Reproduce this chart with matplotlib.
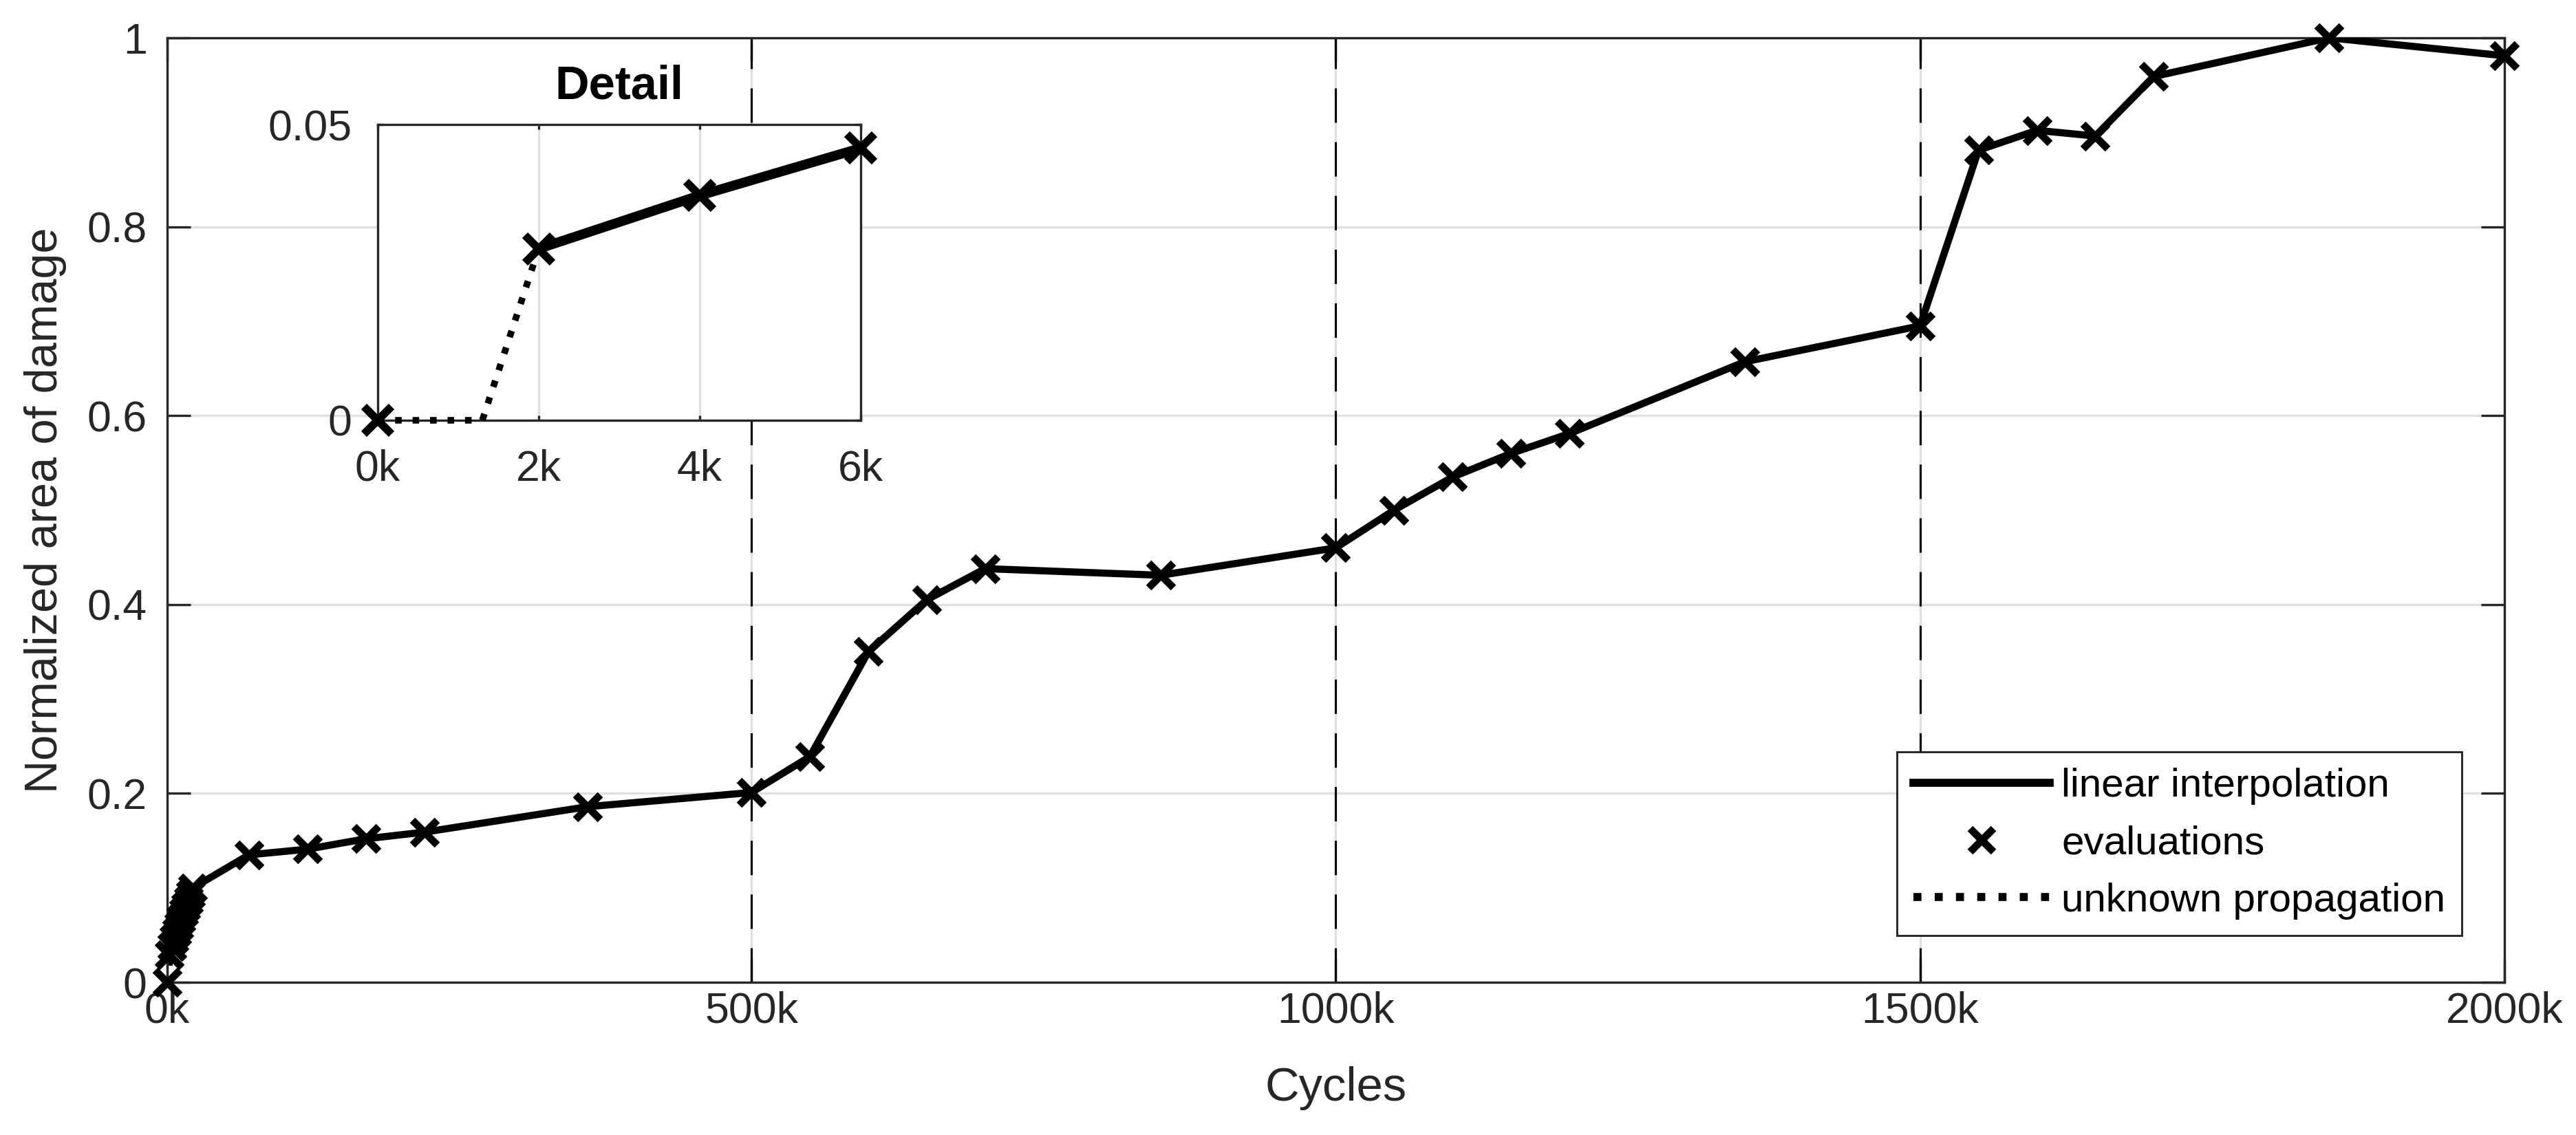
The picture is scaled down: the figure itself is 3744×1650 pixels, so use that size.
"""
Normalized damage area vs. load cycles, with a detail inset of the first 6k cycles.
Output: out.png (3744 x 1650)
"""
import matplotlib
matplotlib.use("Agg")
import matplotlib.pyplot as plt
from matplotlib.lines import Line2D
from matplotlib.ticker import FuncFormatter

plt.rcParams["font.family"] = ["Liberation Sans", "DejaVu Sans"]

# evaluations (cycles in thousands, normalized damage area)
cycles_k = [0, 2, 4, 6, 8, 10, 12, 14, 16, 18, 20, 22,
            70, 120, 170, 220, 360, 500, 550, 600, 650, 700, 850,
            1000, 1050, 1100, 1150, 1200, 1350, 1500, 1550, 1600,
            1650, 1700, 1850, 2000]
damage = [0.0, 0.029, 0.038, 0.046, 0.053, 0.060, 0.067, 0.074, 0.080, 0.087, 0.093, 0.100,
          0.135, 0.141, 0.152, 0.159, 0.186, 0.201, 0.239, 0.350, 0.405, 0.438, 0.431,
          0.460, 0.500, 0.535, 0.560, 0.581, 0.657, 0.695, 0.881, 0.902,
          0.896, 0.959, 1.000, 0.981]

# unknown propagation before the first crack was seen
unknown_k = [0, 1.3, 2]
unknown_y = [0.0, 0.0, 0.029]

# vertical reference marks
phase_marks_k = [500, 1000, 1500]

x_ticks = [0, 500, 1000, 1500, 2000]
y_ticks = [0, 0.2, 0.4, 0.6, 0.8, 1]
inset_x_ticks = [0, 2, 4, 6]
inset_y_ticks = [0, 0.05]
INSET_XMAX = 6

AX_COL = "#262626"
GRID_COL = "#dfdfdf"


def k_fmt(v, _):
    return f"{v:g}k"


def y_fmt(v, _):
    return f"{v:g}"


def style_axes(ax, ticklen, pad_x, pad_y, fs):
    for s in ax.spines.values():
        s.set_color(AX_COL)
        s.set_linewidth(0.8)
    ax.tick_params(direction="in", top=True, right=True, length=ticklen,
                   width=0.8, color=AX_COL, labelcolor=AX_COL, labelsize=fs)
    ax.tick_params(axis="x", pad=pad_x)
    ax.tick_params(axis="y", pad=pad_y)
    ax.grid(True, color=GRID_COL, linewidth=0.8, zorder=0)
    ax.set_axisbelow(True)
    ax.xaxis.set_major_formatter(FuncFormatter(k_fmt))
    ax.yaxis.set_major_formatter(FuncFormatter(y_fmt))


fig = plt.figure(figsize=(12.48, 5.5), dpi=300)
ax = fig.add_axes([0.0649, 0.1345, 0.9073, 0.8322])

for xm in phase_marks_k:
    ax.axvline(xm, color="black", linewidth=0.75, dashes=(16, 9), zorder=1)

ax.plot(unknown_k, unknown_y, color="black", linewidth=2.4, linestyle=":", zorder=2)
ax.plot(cycles_k[1:], damage[1:], color="black", linewidth=2.5, zorder=3)
ax.plot(cycles_k, damage, linestyle="none", marker="x", color="black",
        markersize=8.5, markeredgewidth=2.6, zorder=4, clip_on=False)

ax.set_xlim(0, 2000)
ax.set_ylim(0, 1)
ax.set_xticks(x_ticks)
ax.set_yticks(y_ticks)
style_axes(ax, ticklen=8.2, pad_x=3, pad_y=7, fs=15)
ax.set_xlabel("Cycles", fontsize=16.5, color=AX_COL, labelpad=12)
ax.set_ylabel("Normalized area of damage", fontsize=16, color=AX_COL, labelpad=7)

handles = [
    Line2D([], [], color="black", linewidth=2.8),
    Line2D([], [], color="black", linestyle="none", marker="x",
           markersize=8, markeredgewidth=2.6),
    Line2D([], [], color="black", linewidth=2.8, linestyle=":"),
]
labels = ["linear interpolation", "evaluations", "unknown propagation"]
leg = ax.legend(handles, labels, loc="lower right", bbox_to_anchor=(0.9817, 0.0495),
                borderaxespad=0, fontsize=14, handlelength=3.4, handletextpad=0.3,
                labelspacing=0.5, borderpad=0.4, fancybox=False, framealpha=1,
                edgecolor=AX_COL)
leg.get_frame().set_linewidth(0.7)

# detail inset: only the evaluations inside its range
in_x = [c for c in cycles_k if c <= INSET_XMAX]
in_y = damage[:len(in_x)]

axin = fig.add_axes([0.1466, 0.6297, 0.1875, 0.2606])
axin.plot(unknown_k, unknown_y, color="black", linewidth=2.3, linestyle=":",
          zorder=3, clip_on=False)
axin.plot(in_x[1:], in_y[1:], color="black", linewidth=3.4, zorder=3, clip_on=False)
axin.plot(in_x, in_y, linestyle="none", marker="x", color="black",
          markersize=9.5, markeredgewidth=2.8, zorder=4, clip_on=False)
axin.set_xlim(0, INSET_XMAX)
axin.set_ylim(0, 0.05)
axin.set_xticks(inset_x_ticks)
axin.set_yticks(inset_y_ticks)
style_axes(axin, ticklen=1.7, pad_x=10, pad_y=9, fs=15)
axin.set_title("Detail", fontsize=16.5, fontweight="bold", color="black", pad=9)

fig.savefig("out.png", dpi=300)
plt.close(fig)
